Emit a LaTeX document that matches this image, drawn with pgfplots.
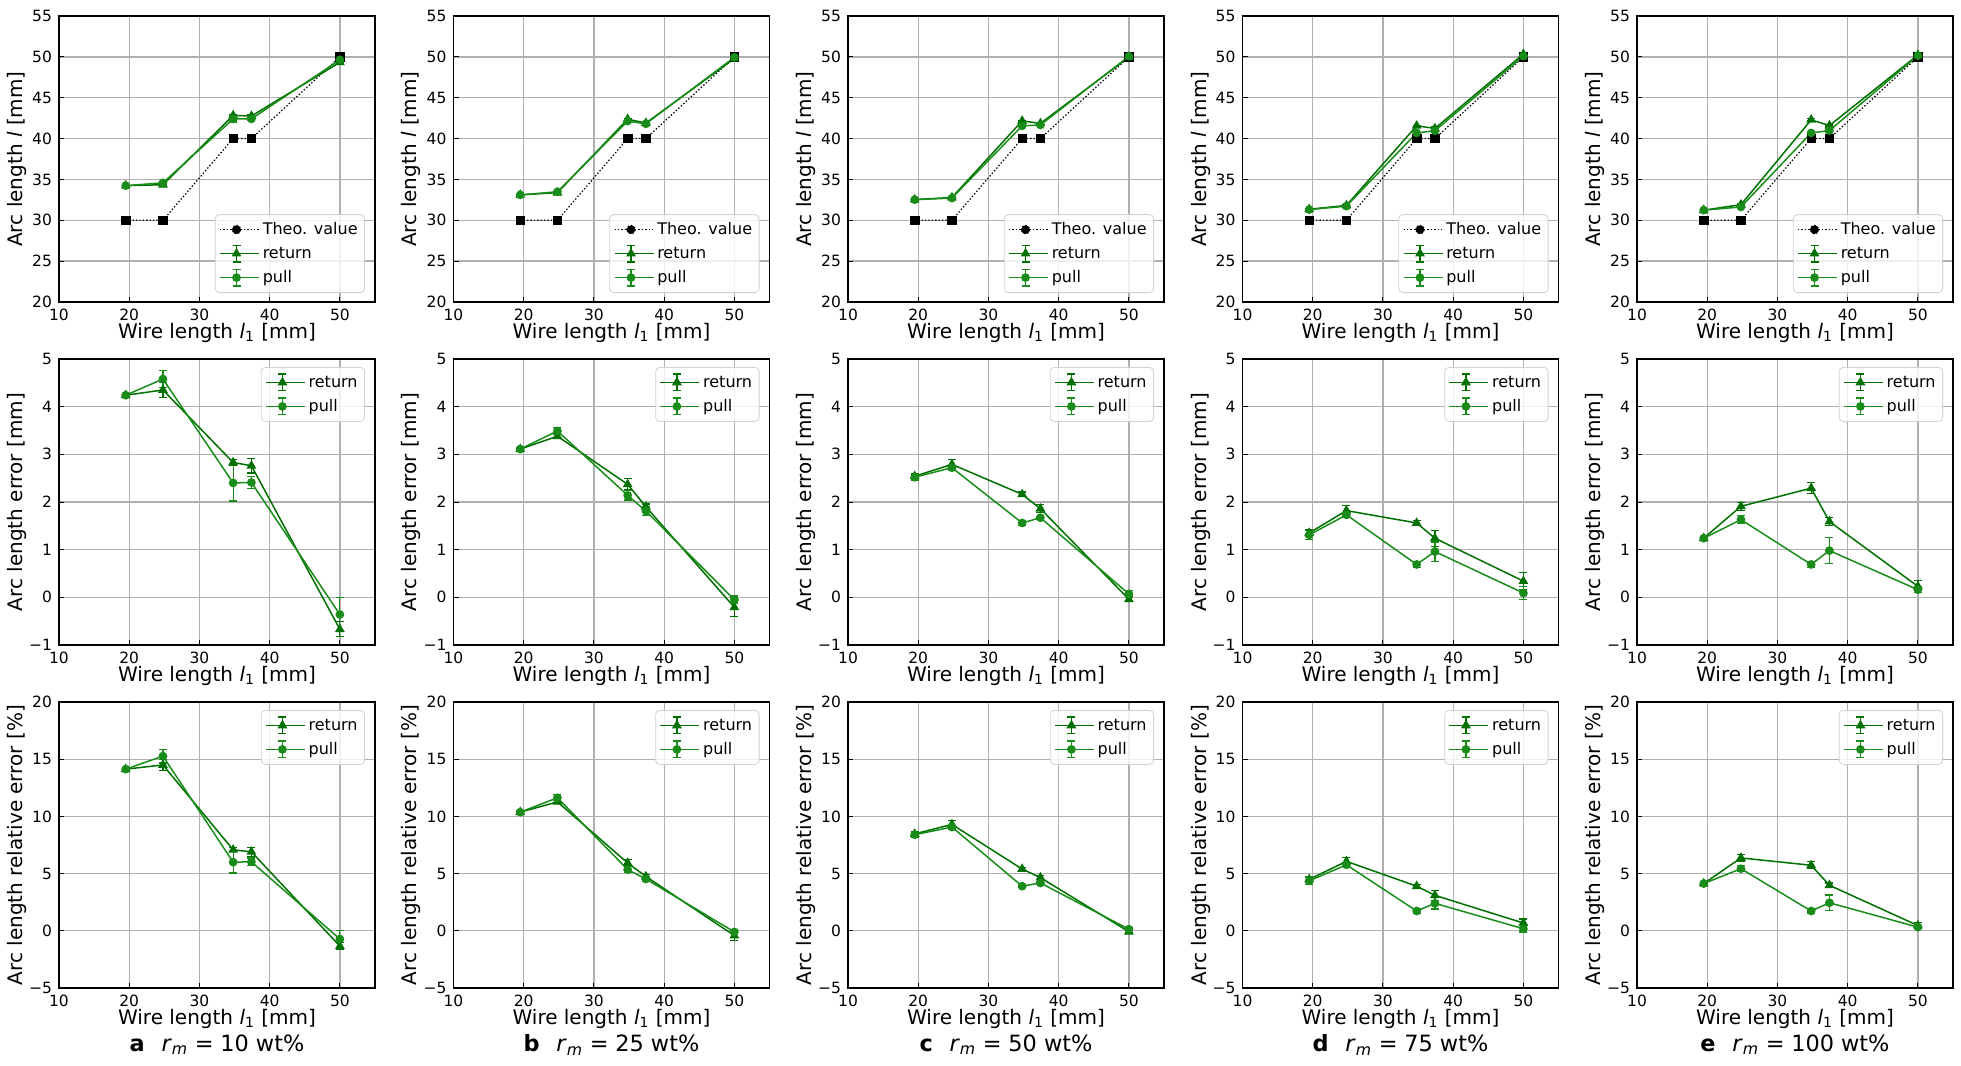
\documentclass[border=0pt]{standalone}
\usepackage{pgfplots}
\pgfplotsset{compat=1.18}
\usepackage{pgfplotstable}
\usepackage{fontspec}
\setmainfont{DejaVu Sans}
\definecolor{retc}{RGB}{0,112,0}
\definecolor{pullc}{RGB}{25,140,25}
\definecolor{gridc}{RGB}{176,176,176}

% columns: x theo | return/pull arc length + err | return/pull error | return/pull relative error + err
\pgfplotstableread{
x theo r1 r1e p1 p1e r2 p2 r3 r3e p3 p3e
19.5 30 34.24 0.04 34.24 0.04 4.24 4.24 14.13 0.13 14.13 0.13
24.8 30 34.35 0.15 34.58 0.18 4.35 4.58 14.50 0.50 15.27 0.60
34.8 40 42.83 0.07 42.40 0.38 2.83 2.40 7.08 0.18 6.00 0.95
37.4 40 42.76 0.15 42.41 0.13 2.76 2.41 6.90 0.38 6.03 0.33
50.0 50 49.33 0.16 49.64 0.36 -0.67 -0.36 -1.34 0.32 -0.72 0.72
}\dataa
\pgfplotstableread{
x theo r1 r1e p1 p1e r2 p2 r3 r3e p3 p3e
19.5 30 33.11 0.04 33.11 0.04 3.11 3.11 10.37 0.13 10.37 0.13
24.8 30 33.38 0.05 33.49 0.08 3.38 3.49 11.27 0.17 11.63 0.27
34.8 40 42.37 0.12 42.14 0.10 2.37 2.14 5.93 0.30 5.35 0.25
37.4 40 41.90 0.06 41.81 0.10 1.90 1.81 4.75 0.15 4.53 0.25
50.0 50 49.79 0.20 49.95 0.08 -0.21 -0.05 -0.42 0.40 -0.10 0.16
}\datab
\pgfplotstableread{
x theo r1 r1e p1 p1e r2 p2 r3 r3e p3 p3e
19.5 30 32.54 0.05 32.52 0.06 2.54 2.52 8.47 0.17 8.40 0.20
24.8 30 32.79 0.10 32.72 0.05 2.79 2.72 9.30 0.33 9.07 0.17
34.8 40 42.16 0.05 41.56 0.05 2.16 1.56 5.40 0.13 3.90 0.13
37.4 40 41.86 0.08 41.67 0.03 1.86 1.67 4.65 0.20 4.18 0.08
50.0 50 49.96 0.05 50.07 0.07 -0.04 0.07 -0.08 0.10 0.14 0.14
}\datac
\pgfplotstableread{
x theo r1 r1e p1 p1e r2 p2 r3 r3e p3 p3e
19.5 30 31.35 0.08 31.31 0.10 1.35 1.31 4.50 0.27 4.37 0.33
24.8 30 31.82 0.10 31.73 0.05 1.82 1.73 6.07 0.33 5.77 0.17
34.8 40 41.56 0.05 40.69 0.07 1.56 0.69 3.90 0.13 1.73 0.18
37.4 40 41.24 0.17 40.96 0.20 1.24 0.96 3.10 0.43 2.40 0.50
50.0 50 50.34 0.18 50.09 0.14 0.34 0.09 0.68 0.36 0.18 0.28
}\datad
\pgfplotstableread{
x theo r1 r1e p1 p1e r2 p2 r3 r3e p3 p3e
19.5 30 31.24 0.04 31.24 0.04 1.24 1.24 4.13 0.13 4.13 0.13
24.8 30 31.91 0.08 31.63 0.08 1.91 1.63 6.37 0.27 5.43 0.27
34.8 40 42.29 0.12 40.69 0.07 2.29 0.69 5.73 0.30 1.73 0.18
37.4 40 41.59 0.08 40.98 0.27 1.59 0.98 3.98 0.20 2.45 0.68
50.0 50 50.23 0.13 50.16 0.06 0.23 0.16 0.46 0.26 0.32 0.12
}\datae

\pgfplotsset{
  base/.style={width=158pt, height=143pt, scale only axis, anchor=north west,
    xmin=10, xmax=55, xtick={10,20,30,40,50},
    grid=major, major grid style={gridc, line width=0.65pt},
    tick align=inside, major tick length=2.5pt, xtick pos=left, ytick pos=left,
    every tick/.style={black, line width=0.5pt},
    axis line style={line width=0.75pt},
    ticklabel style={font=\fontsize{7.75}{9}\selectfont},
    /pgf/number format/assume math mode=true,
    label style={font=\fontsize{9.25}{11}\selectfont},
    every axis x label/.style={at={(axis description cs:0.5,-0.108)}, anchor=center},
    every axis y label/.style={at={(axis description cs:-0.133,0.5)}, rotate=90, anchor=center},
    xlabel={Wire length \textit{l}\textsubscript{1} [mm]},
    legend cell align=left,
    legend style={draw=gray!35, rounded corners=2pt, fill=white, fill opacity=0.8,
      text opacity=1, draw opacity=1, font=\fontsize{8}{9.6}\selectfont,
      inner xsep=2pt, inner ysep=1.5pt,
      nodes={inner sep=1.5pt, text height=7pt, text depth=2pt}},
  },
  row1/.style={ymin=20, ymax=55, ytick={20,25,...,55},
    ylabel={Arc length \textit{l} [mm]},
    legend style={at={(1,0)}, anchor=south east, xshift=-5pt, yshift=4.5pt}},
  row2/.style={ymin=-1, ymax=5, ytick={-1,0,...,5}, yticklabels={−1,0,1,2,3,4,5},
    ylabel={Arc length error [mm]},
    legend style={at={(1,1)}, anchor=north east, xshift=-5pt, yshift=-4pt}},
  row3/.style={ymin=-5, ymax=20, ytick={-5,0,...,20}, yticklabels={−5,0,5,10,15,20},
    ylabel={Arc length relative error [\%]}, clip=false,
    legend style={at={(1,1)}, anchor=north east, xshift=-5pt, yshift=-4pt}},
  theo/.style={black, line width=0.6pt, dash pattern=on 0.7pt off 1pt,
    mark=square*, mark size=2.1pt, mark options={solid, line width=0.3pt},
    legend image code/.code={
      \draw[black, line width=0.6pt, dash pattern=on 0.7pt off 1pt] (0pt,0pt) -- (16.5pt,0pt);
      \fill[black, fill opacity=1] (6.15pt,-2.1pt) rectangle (10.35pt,2.1pt);
      \path (0pt,0pt) -- (19.5pt,0pt);
    }},
  ret/.style={retc, line width=0.75pt, mark=triangle*, mark size=2.1pt, mark options={solid},
    legend image code/.code={
      \draw[retc, line width=0.75pt] (0pt,0pt) -- (16.5pt,0pt);
      \draw[retc, line width=0.6pt] (8.25pt,-4.2pt) -- (8.25pt,4.2pt)
        (6.25pt,-4.2pt) -- (10.25pt,-4.2pt) (6.25pt,4.2pt) -- (10.25pt,4.2pt);
      \draw[retc, fill opacity=1] plot[mark=triangle*, mark size=2.1pt] coordinates {(8.25pt,0pt)};
      \path (0pt,0pt) -- (19.5pt,0pt);
    },
    error bars/.cd, y dir=both, y explicit, error bar style={line width=0.6pt, solid},
    error mark options={rotate=90, retc, mark size=2pt, line width=0.6pt}},
  pul/.style={pullc, line width=0.75pt, mark=*, mark size=1.8pt, mark options={solid},
    legend image code/.code={
      \draw[pullc, line width=0.75pt] (0pt,0pt) -- (16.5pt,0pt);
      \draw[pullc, line width=0.6pt] (8.25pt,-4.2pt) -- (8.25pt,4.2pt)
        (6.25pt,-4.2pt) -- (10.25pt,-4.2pt) (6.25pt,4.2pt) -- (10.25pt,4.2pt);
      \draw[pullc, fill opacity=1] plot[mark=*, mark size=1.8pt] coordinates {(8.25pt,0pt)};
      \path (0pt,0pt) -- (19.5pt,0pt);
    },
    error bars/.cd, y dir=both, y explicit, error bar style={line width=0.6pt, solid},
    error mark options={rotate=90, pullc, mark size=2pt, line width=0.6pt}},
}

\newcommand{\panel}[4]{%
  \begin{axis}[base, row1, at={(#1*197.25pt,0pt)}]
    \addplot[theo] table[x=x, y=theo]{#2}; \addlegendentry{Theo. value}
    \addplot[ret] table[x=x, y=r1, y error=r1e]{#2}; \addlegendentry{return}
    \addplot[pul] table[x=x, y=p1, y error=p1e]{#2}; \addlegendentry{pull}
  \end{axis}
  \begin{axis}[base, row2, at={(#1*197.25pt,-171.5pt)}]
    \addplot[ret] table[x=x, y=r2, y error=r1e]{#2}; \addlegendentry{return}
    \addplot[pul] table[x=x, y=p2, y error=p1e]{#2}; \addlegendentry{pull}
  \end{axis}
  \begin{axis}[base, row3, at={(#1*197.25pt,-343pt)}]
    \addplot[ret] table[x=x, y=r3, y error=r3e]{#2}; \addlegendentry{return}
    \addplot[pul] table[x=x, y=p3, y error=p3e]{#2}; \addlegendentry{pull}
    \node[font=\fontsize{11.2}{13}\selectfont, anchor=center] at (axis description cs:0.5,-0.199)
      {{\bfseries #3}\hspace{0.75em}\textit{r}\textsubscript{\textit{m}}\hspace{0.3em}=\hspace{0.3em}#4 wt\%};
  \end{axis}
}

\begin{document}
\begin{tikzpicture}
  \path[use as bounding box] (-29.5pt,8pt) rectangle (951pt,-525pt);
  \panel{0}{\dataa}{a}{10}
  \panel{1}{\datab}{b}{25}
  \panel{2}{\datac}{c}{50}
  \panel{3}{\datad}{d}{75}
  \panel{4}{\datae}{e}{100}
\end{tikzpicture}
\end{document}
